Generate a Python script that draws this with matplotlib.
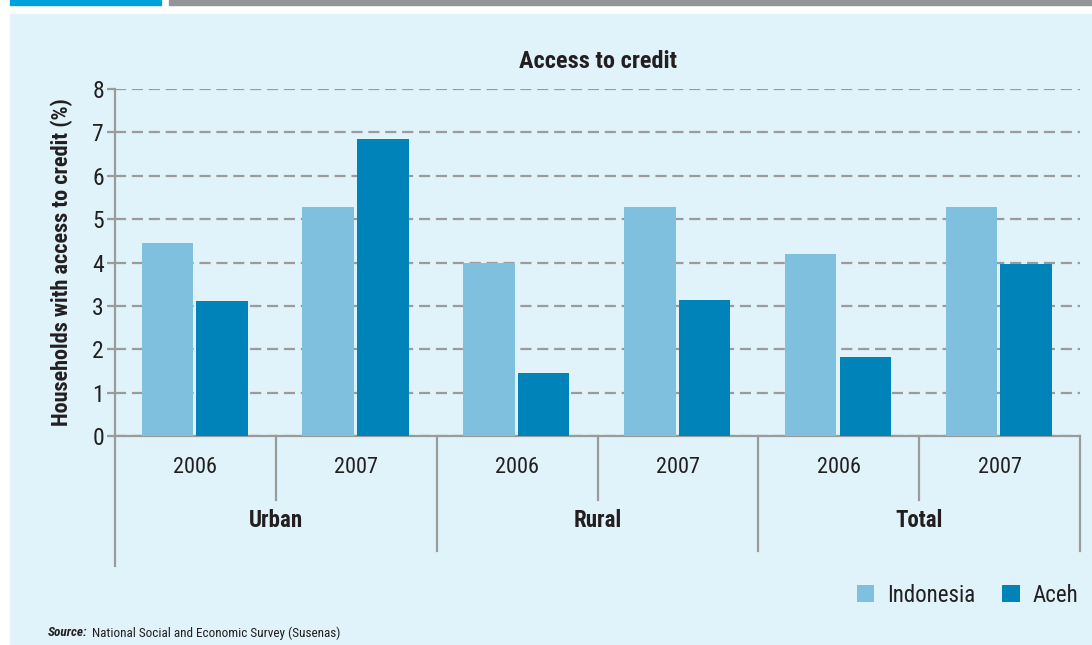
import matplotlib.pyplot as plt
import matplotlib.transforms as mtransforms
from matplotlib.patches import Rectangle
from matplotlib import font_manager as fm
import numpy as np

# 데이터
groups = ['Urban', 'Rural', 'Total']
years = ['2006', '2007']
indonesia = [4.45, 5.28, 3.99, 5.28, 4.19, 5.28]
aceh = [3.11, 6.84, 1.45, 3.13, 1.82, 3.96]
y_ticks = [0, 1, 2, 3, 4, 5, 6, 7, 8]

c_indo = '#7fc0de'
c_aceh = '#0083b8'
c_line = '#9b9b9b'
c_text = '#231f20'
c_panel = '#e0f2fa'

# 좁은 글꼴 우선
names = {f.name for f in fm.fontManager.ttflist}
font = 'DejaVu Sans'
for cand in ['Roboto Condensed', 'Open Sans Condensed', 'Liberation Sans Narrow',
             'Noto Sans', 'Open Sans']:
    if cand in names:
        font = cand
        break
plt.rcParams['font.family'] = [font, 'DejaVu Sans']

fig = plt.figure(figsize=(10.92, 6.45), dpi=100, facecolor='white')
W, H = 1092, 645

# 배경 패널과 상단 띠
fig.patches.append(Rectangle((10 / W, 0), 1 - 10 / W, 1 - 14 / H,
                             transform=fig.transFigure, color=c_panel, zorder=-5))
fig.patches.append(Rectangle((10 / W, 1 - 5 / H), 151 / W, 5 / H,
                             transform=fig.transFigure, color='#00a0dc', zorder=-5))
fig.patches.append(Rectangle((169 / W, 1 - 5 / H), 1 - 169 / W, 5 / H,
                             transform=fig.transFigure, color='#939598', zorder=-5))

ax = fig.add_axes([115 / W, 1 - 436 / H, 965 / W, 347 / H])
ax.set_facecolor('none')

x = np.arange(len(indonesia)) + 0.5
w = 0.32
ax.bar(x - 0.175, indonesia, w, color=c_indo, zorder=3, label='Indonesia')
ax.bar(x + 0.165, aceh, w, color=c_aceh, zorder=3, label='Aceh')

ax.set_xlim(0, 6)
ax.set_ylim(0, 8)
ax.set_yticks(y_ticks)
ax.set_yticklabels([str(v) for v in y_ticks], fontsize=17, color=c_text)
ax.tick_params(axis='y', length=6, width=1.6, color=c_line, pad=2)
ax.set_xticks([])
ax.yaxis.grid(True, linestyle=(0, (5, 2.6)), color=c_line, linewidth=1.6, zorder=1)
for s in ['top', 'right']:
    ax.spines[s].set_visible(False)
ax.spines['left'].set_color(c_line)
ax.spines['bottom'].set_color(c_line)
ax.spines['left'].set_linewidth(1.6)
ax.spines['bottom'].set_linewidth(1.6)

# 카테고리 축 (연도 / 지역)
trans = mtransforms.blended_transform_factory(ax.transData, ax.transAxes)
ax.plot([0, 0], [0, -0.375], transform=trans, color=c_line, lw=1.6, clip_on=False)
for i in range(1, 7):
    bottom = -0.331 if i % 2 == 0 else -0.184
    ax.plot([i, i], [0, bottom], transform=trans, color=c_line, lw=1.6, clip_on=False)
for i, xc in enumerate(x):
    ax.text(xc, -0.09, years[i % 2], transform=trans, ha='center', va='center',
            fontsize=16, color=c_text)
for g, name in enumerate(groups):
    ax.text(2 * g + 1, -0.243, name, transform=trans, ha='center', va='center',
            fontsize=16.5, fontweight='bold', color=c_text)

ax.set_ylabel('Households with access to credit (%)', fontsize=16, fontweight='bold',
              color=c_text, labelpad=14)
fig.text(598 / W, 1 - 62 / H, 'Access to credit', ha='center', va='center',
         fontsize=17.5, fontweight='bold', color=c_text)

# 범례
ax.legend(loc='lower right', bbox_to_anchor=(1087 / W, 1 - 616 / H),
          bbox_transform=fig.transFigure, ncol=2, frameon=False, fontsize=16.5,
          handlelength=0.75, handleheight=0.75, handletextpad=0.55,
          columnspacing=1.2, labelcolor=c_text, borderaxespad=0)

src = fig.text(48 / W, 1 - 633 / H, 'Source:', fontsize=9.5, fontweight='bold',
               style='italic', color=c_text, va='center')
ax.annotate('National Social and Economic Survey (Susenas)', xy=(1, 0.5),
            xycoords=src, xytext=(3, 0), textcoords='offset points',
            fontsize=9.5, color=c_text, va='center', annotation_clip=False)

fig.savefig('out.png', dpi=100, facecolor='white')
